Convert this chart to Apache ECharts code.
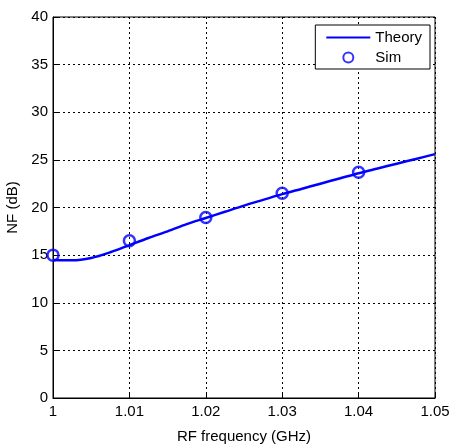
<!DOCTYPE html>
<html>
<head>
<meta charset="utf-8">
<script src="https://cdn.jsdelivr.net/npm/echarts@6/dist/echarts.min.js"></script>
<style>
  html, body { margin: 0; padding: 0; background: #fff; }
  #chart { width: 450px; height: 444px; }
</style>
</head>
<body>
<div id="chart"></div>
<script>
// theory curve
const theoryX = [1.0, 1.0025, 1.005, 1.0075, 1.01, 1.0125, 1.015, 1.0175, 1.02, 1.0225, 1.025,
  1.0275, 1.03, 1.0325, 1.035, 1.0375, 1.04, 1.0425, 1.045, 1.0475, 1.05]
const theoryY = [14.5, 14.45, 14.7, 15.3, 16.05, 16.8, 17.5, 18.25, 18.9, 19.55, 20.2,
  20.8, 21.4, 21.95, 22.5, 23.05, 23.6, 24.1, 24.6, 25.1, 25.6]
// simulated points
const simX = [1.0, 1.01, 1.02, 1.03, 1.04]
const simY = [15.0, 16.5, 18.95, 21.5, 23.7]

const font = 'Liberation Sans, Arial, sans-serif'
const black = '#000'
const blue = '#0000ff'

const myChart = echarts.init(document.getElementById('chart'))
const option = {
  animation: false,
  backgroundColor: '#fff',
  grid: {
    left: 53,
    right: 15,
    top: 17,
    bottom: 46,
    show: true,
    borderColor: black,
    borderWidth: 1,
    containLabel: false,
    outerBoundsMode: 'none'
  },
  legend: {
    right: 20,
    top: 25,
    orient: 'vertical',
    backgroundColor: '#fff',
    borderColor: black,
    borderWidth: 1,
    borderRadius: 0,
    padding: [5, 8, 4, 10],
    itemGap: 5,
    itemWidth: 44,
    itemHeight: 10,
    textStyle: { fontFamily: font, fontSize: 15, color: black },
    data: [
      { name: 'Theory', itemStyle: { opacity: 0 } },
      { name: 'Sim' }
    ]
  },
  xAxis: {
    type: 'value',
    min: 1,
    max: 1.05,
    interval: 0.01,
    name: 'RF frequency (GHz)',
    nameLocation: 'middle',
    nameGap: 31,
    nameTextStyle: { fontFamily: font, fontSize: 15, color: black },
    axisLine: { show: true, lineStyle: { color: black } },
    axisTick: { inside: true, length: 5, lineStyle: { color: black } },
    axisLabel: {
      fontFamily: font,
      fontSize: 15,
      color: black,
      margin: 6,
      formatter: function(v) {
        if (Math.abs(v - 1) < 1e-9) return '1'
        return v.toFixed(2)
      }
    },
    splitLine: { show: true, lineStyle: { color: black, type: [2, 3], width: 1 } }
  },
  yAxis: {
    type: 'value',
    min: 0,
    max: 40,
    interval: 5,
    name: 'NF (dB)',
    nameLocation: 'middle',
    nameGap: 25,
    nameTextStyle: { fontFamily: font, fontSize: 15, color: black },
    axisLine: { show: true, lineStyle: { color: black } },
    axisTick: { show: true, inside: true, length: 5, lineStyle: { color: black } },
    axisLabel: { fontFamily: font, fontSize: 15, color: black, margin: 5 },
    splitLine: { show: true, lineStyle: { color: black, type: [2, 3], width: 1 } }
  },
  series: [
    {
      name: 'Theory',
      type: 'line',
      smooth: 0.3,
      symbol: 'none',
      lineStyle: { color: blue, width: 2.5 },
      itemStyle: { color: blue },
      data: theoryX.map((x, i) => [x, theoryY[i]]),
      z: 3
    },
    {
      name: 'Sim',
      type: 'scatter',
      symbol: 'circle',
      symbolSize: 11,
      itemStyle: { color: 'rgba(0,0,0,0)', borderColor: blue, borderWidth: 2.5 },
      data: simX.map((x, i) => [x, simY[i]]),
      z: 4
    }
  ]
}
option && myChart.setOption(option)
</script>
</body>
</html>
